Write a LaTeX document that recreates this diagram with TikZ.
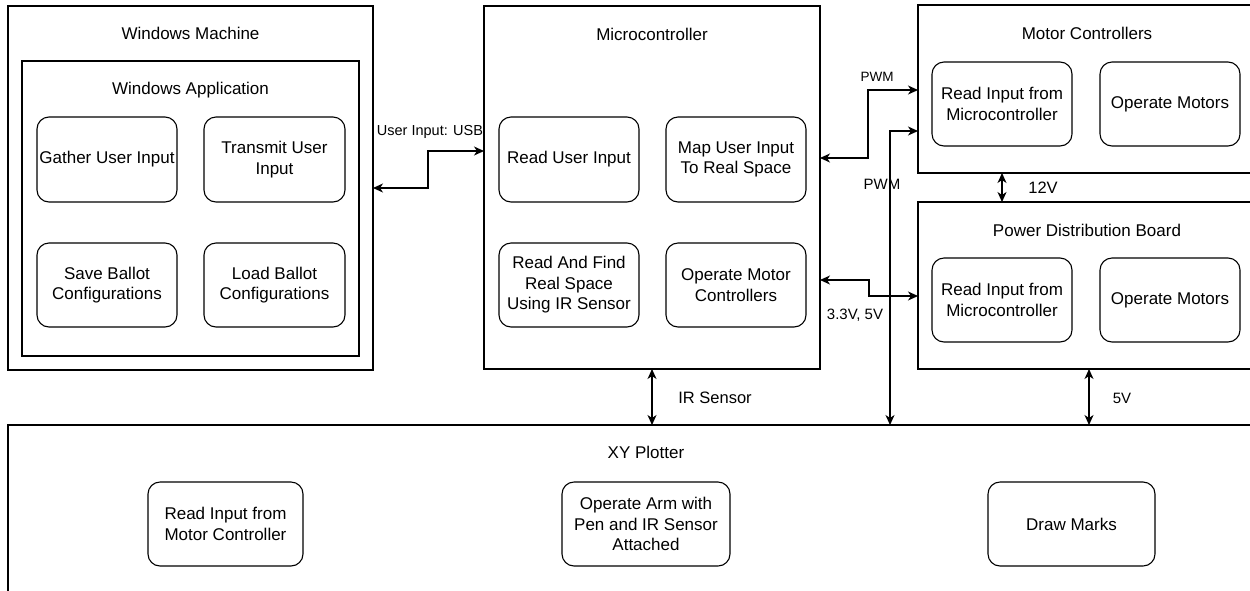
\documentclass[tikz,border=0pt]{standalone}
\usepackage{fontspec}
\setmainfont{Liberation Sans}
\usetikzlibrary{arrows.meta}
\newcommand{\fsz}[1]{\fontsize{#1}{#1}\selectfont}
\tikzset{
  cbox/.style={draw, line width=1.1pt, inner sep=0pt, outer sep=0pt, anchor=north west},
  rbox/.style={draw, line width=1.1pt, rounded corners=12pt, inner sep=0pt, outer sep=0pt, align=center, font=\fontsize{17}{20.5}\selectfont},
  ttl/.style={inner sep=0pt, font=\fontsize{17}{20.5}\selectfont},
  lbl/.style={inner sep=0pt},
  conn/.style={line width=1.1pt, {Stealth[length=10pt,width=9pt,inset=3pt]}-{Stealth[length=10pt,width=9pt,inset=3pt]}}
}
\begin{document}
\begin{tikzpicture}[x=1pt,y=-1pt]
\useasboundingbox (0,0) rectangle (1250,590);
\clip (0,0) rectangle (1250,590);
\fill[white] (0,0) rectangle (1250,590);
% containers
\node[cbox, minimum width=365pt, minimum height=364pt] (wm) at (8,6) {};
\node[cbox, minimum width=337pt, minimum height=295pt] (wa) at (22,61) {};
\node[cbox, minimum width=336pt, minimum height=363pt] (mc) at (484,6) {};
\node[cbox, minimum width=350pt, minimum height=168pt] (mctl) at (918,5) {};
\node[cbox, minimum width=350pt, minimum height=167pt] (pdb) at (918,202) {};
\node[cbox, minimum width=1260pt, minimum height=200pt] (xy) at (8,425) {};
% titles
\node[ttl] (twm) at (190.5,33) {Windows Machine};
\node[ttl] (twa) at (190.5,90) {Windows Application};
\node[ttl] (tmc) at (652,34) {Microcontroller};
\node[ttl] (tmctl) at (1087,33) {Motor Controllers};
\node[ttl] (tpdb) at (1087,230) {Power Distribution Board};
\node[ttl] (txy) at (646,452) {XY Plotter};
% inner boxes
\node[rbox, minimum width=140pt, minimum height=85pt] (gather) at (107,159.5) {Gather User Input};
\node[rbox, minimum width=141pt, minimum height=85pt] (transmit) at (274.5,159.5) {Transmit User\\Input};
\node[rbox, minimum width=140pt, minimum height=84pt] (save) at (107,285) {Save Ballot\\Configurations};
\node[rbox, minimum width=141pt, minimum height=84pt] (load) at (274.5,285) {Load Ballot\\Configurations};
\node[rbox, minimum width=140pt, minimum height=85pt] (rui) at (569,159.5) {Read User Input};
\node[rbox, minimum width=140pt, minimum height=85pt] (map) at (736,159.5) {Map User Input\\To Real Space};
\node[rbox, minimum width=140pt, minimum height=84pt] (find) at (569,285) {Read And Find\\Real Space\\Using IR Sensor};
\node[rbox, minimum width=140pt, minimum height=84pt] (omc) at (736,285) {Operate Motor\\Controllers};
\node[rbox, minimum width=140pt, minimum height=84pt] (rim1) at (1002,104) {Read Input from\\Microcontroller};
\node[rbox, minimum width=140pt, minimum height=84pt] (om1) at (1170,104) {Operate Motors};
\node[rbox, minimum width=140pt, minimum height=84pt] (rim2) at (1002,300) {Read Input from\\Microcontroller};
\node[rbox, minimum width=140pt, minimum height=84pt] (om2) at (1170,300) {Operate Motors};
\node[rbox, minimum width=155pt, minimum height=84pt] (rimc) at (225.5,524) {Read Input from\\Motor Controller};
\node[rbox, minimum width=168pt, minimum height=84pt] (arm) at (646,524) {Operate Arm with\\Pen and IR Sensor\\Attached};
\node[rbox, minimum width=167pt, minimum height=84pt] (marks) at (1071.5,524) {Draw Marks};
% connectors
\draw[conn] (wm.east) -| (428,151) -- (mc.west |- 0,151);
\draw[conn] (mc.east |- 0,158) -| (868,90) -- (mctl.west |- 0,90);
\draw[conn] (mctl.west |- 0,131) -| (xy.north -| 890,0);
\draw[conn] (mc.east |- 0,280) -| (869,296) -- (pdb.west |- 0,296);
\draw[conn] (mctl.south -| 1002,0) -- (pdb.north -| 1002,0);
\draw[conn] (mc.south -| 652,0) -- (xy.north -| 652,0);
\draw[conn] (pdb.south -| 1089,0) -- (xy.north -| 1089,0);
% labels
\node[lbl, font=\fsz{14.5}] (lusb) at (430,132) {User Input: USB};
\node[lbl, font=\fsz{13.5}] (lpwm1) at (877,77) {PWM};
\node[lbl, font=\fsz{15}] (lpwm2) at (882,184) {PWM};
\node[lbl, font=\fsz{15}] (lv33) at (855,315) {3.3V, 5V};
\node[lbl, font=\fsz{16.5}] (l12) at (1043,188) {12V};
\node[lbl, font=\fsz{16.5}] (lir) at (715,398) {IR Sensor};
\node[lbl, font=\fsz{15}] (l5) at (1122,398) {5V};
\end{tikzpicture}
\end{document}
